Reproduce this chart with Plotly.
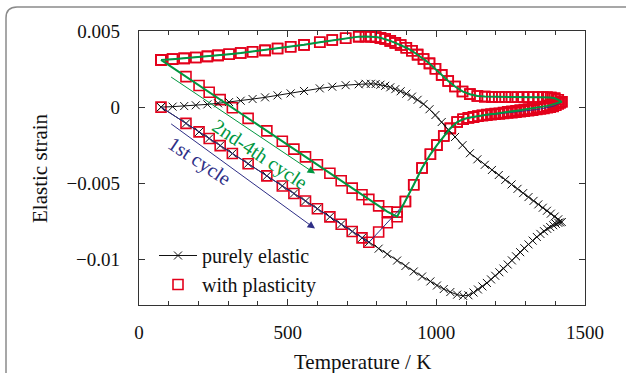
import plotly.graph_objects as go

# ---------------- data ----------------
T_heat = [74, 158, 202, 236, 273, 314, 367, 430, 482, 521, 560, 600, 642, 680, 717, 750, 773,
          806, 835, 868, 896, 924, 952, 980, 1002, 1025, 1047, 1070, 1090, 1108, 1125, 1140,
          1155, 1170, 1184, 1198, 1212, 1226, 1240, 1254, 1268, 1282, 1296, 1310, 1324, 1338,
          1350, 1362, 1373, 1383, 1393, 1402, 1410, 1416, 1422]
T_cool = [1422, 1410, 1398, 1385, 1372, 1358, 1343, 1327, 1310, 1292, 1273, 1253, 1232, 1210,
          1187, 1163, 1138, 1113, 1088, 1063, 1040, 1018, 997, 977, 957, 937, 918, 899, 880,
          862, 845, 828, 812, 796, 780, 762, 739, 695, 650, 608, 555, 510, 466, 424, 382, 342,
          303, 266, 230, 191, 152, 113, 74]

elastic_heat = [0, -0.00107, -0.00163, -0.00206, -0.00253, -0.00305, -0.00372, -0.00452,
                -0.00518, -0.00568, -0.00617, -0.00668, -0.00721, -0.0077, -0.00817, -0.00859,
                -0.00888, -0.0093, -0.00966, -0.01008, -0.01044, -0.0108, -0.01113, -0.01145,
                -0.01172, -0.01195, -0.01215, -0.01232, -0.0124, -0.01236, -0.01218, -0.01198,
                -0.01178, -0.01155, -0.01132, -0.01108, -0.01085, -0.01061, -0.01034, -0.01007,
                -0.0098, -0.00953, -0.00927, -0.00902, -0.00877, -0.00853, -0.00833, -0.00815,
                -0.008, -0.00788, -0.00776, -0.00767, -0.0076, -0.00757, -0.00755]
elastic_cool = [-0.00755, -0.00737, -0.00719, -0.007, -0.00681, -0.00661, -0.00639, -0.00616,
                -0.00591, -0.00565, -0.00537, -0.00508, -0.00478, -0.00446, -0.00413, -0.00379,
                -0.00343, -0.00303, -0.0025, -0.00196, -0.00148, -0.00098, -0.00052, -0.00014,
                0.0002, 0.00048, 0.00069, 0.00088, 0.00104, 0.00118, 0.0013, 0.0014, 0.00147,
                0.00152, 0.00153, 0.00153, 0.0015, 0.00144, 0.00134, 0.00123, 0.00106, 0.0009,
                0.00077, 0.00064, 0.00053, 0.00042, 0.00033, 0.00025, 0.00018, 0.00012, 0.00007,
                0.00003, 0]

plastic_cycle1_heat = [0, -0.00107, -0.00163, -0.00206, -0.00253, -0.00305, -0.00372, -0.00452,
                       -0.00518, -0.00568, -0.00617, -0.00668, -0.00721, -0.0077, -0.00817,
                       -0.00859, -0.00888, -0.0082, -0.0076, -0.0069, -0.0062, -0.0051, -0.004,
                       -0.0031, -0.0025, -0.0019, -0.0014, -0.00098, -0.0008, -0.00071, -0.00066,
                       -0.0006, -0.00056, -0.00053, -0.0005, -0.00047, -0.00045, -0.00042,
                       -0.00039, -0.00036, -0.00033, -0.0003, -0.00027, -0.00024, -0.0002,
                       -0.00016, -0.00012, -0.00008, -0.00004, 0.0, 0.00005, 0.00012, 0.0002,
                       0.00028, 0.00035]
plastic_cycle2_heat = [0.0031, 0.002, 0.00142, 0.00098, 0.00049, -0.00004, -0.00074, -0.00156,
                       -0.00224, -0.00276, -0.00327, -0.00379, -0.00434, -0.00484, -0.00532,
                       -0.00576, -0.00606, -0.00649, -0.00687, -0.0072, -0.0062, -0.0051, -0.004,
                       -0.0031, -0.0025, -0.0019, -0.0014, -0.00098, -0.0008, -0.0007, -0.00064,
                       -0.00058, -0.00053, -0.00049, -0.00046, -0.00043, -0.0004, -0.00036,
                       -0.00031, -0.00028, -0.00024, -0.0002, -0.00016, -0.00012, -0.00009,
                       -0.00005, -0.00001, 0.00003, 0.00008, 0.00013, 0.00019, 0.00025, 0.0003,
                       0.00033, 0.00035]
plastic_cool = [0.00035, 0.00048, 0.00058, 0.00063, 0.00065, 0.00065, 0.00065, 0.00065, 0.00065,
                0.00065, 0.00065, 0.00065, 0.00066, 0.00066, 0.00067, 0.00069, 0.00073, 0.00085,
                0.00103, 0.00135, 0.00172, 0.00212, 0.00252, 0.00287, 0.00316, 0.00345, 0.0037,
                0.0039, 0.00408, 0.00422, 0.00435, 0.00447, 0.00455, 0.0046, 0.00463, 0.00464,
                0.00463, 0.00452, 0.00441, 0.00426, 0.00409, 0.00397, 0.00385, 0.00373, 0.00364,
                0.00355, 0.00347, 0.0034, 0.00333, 0.00326, 0.0032, 0.00315, 0.0031]

x_tickvals = [0, 500, 1000, 1500]
y_tickvals = [0.005, 0, -0.005, -0.01]
y_ticktext = ["0.005", "0", "−0.005", "−0.01"]

series_names = ["purely elastic", "with plasticity"]
label_cycle1 = "1st cycle"
label_cycle24 = "2nd-4th cycle"
x_title = "Temperature / K"
y_title = "Elastic strain"

# arrows (tail -> head) in data coordinates
arrow_green = dict(tail=(103, 0.00204), head=(592, -0.00436))
arrow_blue = dict(tail=(103, -0.00103), head=(592, -0.00798))
text_green_pos = (406, -0.00312)
text_blue_pos = (204, -0.00358)

# ---------------- styling ----------------
W, H = 626, 373
ML, MR, MT, MB = 139, 41, 31, 68
FONT = "Liberation Serif"
RED = "#e3001b"
GREEN = "#009640"
BLUE = "#2e2e86"
AXC = "#333333"

T_loop = T_heat + T_cool[1:]
el_loop = elastic_heat + elastic_cool[1:]
pl1_loop = plastic_cycle1_heat + plastic_cool[1:]
pl2_loop = plastic_cycle2_heat + plastic_cool[1:]

fig = go.Figure()

fig.add_trace(go.Scatter(
    x=T_loop + T_loop, y=pl1_loop + pl2_loop, mode="markers",
    name=series_names[1], legendrank=2, legendgroup="b",
    marker=dict(symbol="square-open", size=10, color=RED, line=dict(width=1.6, color=RED)),
))
fig.add_trace(go.Scatter(
    x=T_loop, y=el_loop, mode="lines+markers", name=series_names[0], legendrank=1,
    legendgroup="a",
    line=dict(color="#111111", width=1),
    marker=dict(symbol="x-thin", size=8, color="#111111", line=dict(width=1, color="#111111")),
))
fig.add_trace(go.Scatter(x=T_loop, y=pl1_loop, mode="lines", showlegend=False,
                         line=dict(color=BLUE, width=1)))
fig.add_trace(go.Scatter(x=T_loop, y=pl2_loop, mode="lines", showlegend=False,
                         line=dict(color=GREEN, width=2)))

annotations = []
for arr, col in ((arrow_green, GREEN), (arrow_blue, BLUE)):
    annotations.append(dict(
        x=arr["head"][0], y=arr["head"][1], ax=arr["tail"][0], ay=arr["tail"][1],
        xref="x", yref="y", axref="x", ayref="y", text="", showarrow=True,
        arrowhead=2, arrowsize=1.5, arrowwidth=1, arrowcolor=col))
annotations.append(dict(x=text_green_pos[0], y=text_green_pos[1], xref="x", yref="y",
                        text=label_cycle24, showarrow=False, textangle=33.7,
                        xanchor="center", yanchor="middle",
                        font=dict(family=FONT, size=20, color=GREEN)))
annotations.append(dict(x=text_blue_pos[0], y=text_blue_pos[1], xref="x", yref="y",
                        text=label_cycle1, showarrow=False, textangle=33.7,
                        xanchor="center", yanchor="middle",
                        font=dict(family=FONT, size=20, color=BLUE)))

pw, ph = W - ML - MR, H - MT - MB
def pxx(v):
    return (v - ML) / pw
def pyy(v):
    return (H - MB - v) / ph

annotations.append(dict(x=pxx(362), y=pyy(362), xref="paper", yref="paper", text=x_title,
                        showarrow=False, xanchor="center", yanchor="middle",
                        font=dict(family=FONT, size=21, color="#111")))
annotations.append(dict(x=pxx(40), y=pyy(168), xref="paper", yref="paper", text=y_title,
                        showarrow=False, textangle=-90, xanchor="center", yanchor="middle",
                        font=dict(family=FONT, size=21, color="#111")))

frame_path = (f"M {pxx(6)},{pyy(420)} L {pxx(6)},{pyy(18)} "
              f"Q {pxx(6)},{pyy(7)} {pxx(17)},{pyy(7)} L {pxx(700)},{pyy(7)}")

fig.update_layout(
    width=W, height=H, margin=dict(l=ML, r=MR, t=MT, b=MB, autoexpand=False),
    paper_bgcolor="white", plot_bgcolor="white",
    font=dict(family=FONT, size=19, color="#111"),
    showlegend=True,
    legend=dict(x=pxx(154), y=pyy(236), xanchor="left", yanchor="top",
                bgcolor="rgba(0,0,0,0)", tracegroupgap=0, itemwidth=38,
                font=dict(family=FONT, size=20, color="#111")),
    annotations=annotations,
    shapes=[dict(type="path", xref="paper", yref="paper", path=frame_path,
                 line=dict(color="#8a8a8a", width=1.5), layer="below")],
)
fig.update_xaxes(range=[0, 1500], tickvals=x_tickvals, ticks="inside", ticklen=6,
                 tickcolor=AXC, showline=True, linecolor=AXC, linewidth=1.3, mirror="ticks",
                 showgrid=False, zeroline=False, ticklabelstandoff=10,
                 minor=dict(dtick=100, ticks="inside", ticklen=4, tickcolor=AXC, showgrid=False))
fig.update_yaxes(range=[-0.013, 0.005], tickvals=y_tickvals, ticktext=y_ticktext,
                 ticks="inside", ticklen=6, tickcolor=AXC, showline=True, linecolor=AXC,
                 linewidth=1.3, mirror="ticks", showgrid=False, zeroline=False,
                 ticklabelstandoff=14)

fig.write_html("out.html")
